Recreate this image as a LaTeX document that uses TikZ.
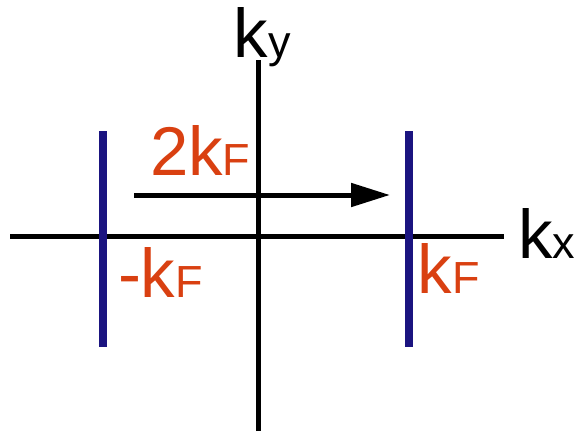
\documentclass[tikz,border=0pt]{standalone}
\usepackage{fontspec}
\setmainfont{Liberation Sans}
\usetikzlibrary{arrows.meta}
\definecolor{kforange}{HTML}{D94011}
\definecolor{fsblue}{HTML}{1B1480}
\newcommand{\bigk}[1]{{\fontsize{69}{69}\selectfont #1}}
\newcommand{\smallsub}[1]{{\fontsize{45}{45}\selectfont #1}}
\begin{document}
\begin{tikzpicture}[x=1pt,y=-1pt,
  axis/.style={line width=5pt,black},
  fsline/.style={line width=8pt,fsblue},
  lab/.style={anchor=base west,inner sep=0pt,outer sep=0pt},
  orangelab/.style={lab,text=kforange}]
\useasboundingbox (0,0) rectangle (578,431);
% axes
\coordinate (xl) at (10,236);
\coordinate (xr) at (504,236);
\coordinate (yt) at (258,60);
\coordinate (yb) at (258,431);
\draw[axis] (xl) -- (xr);
\draw[axis] (yb) -- (yt);
% Fermi lines
\coordinate (lt) at (102.5,131);
\coordinate (lb) at (102.5,347);
\coordinate (rt) at (409,131);
\coordinate (rb) at (409,347);
\draw[fsline] (lt) -- (lb);
\draw[fsline] (rt) -- (rb);
% nesting arrow
\coordinate (as) at (134,195);
\coordinate (ae) at (390,195);
\draw[line width=5pt,-{Triangle[length=39pt,width=23pt]}] (as) -- (ae);
% labels
\node[lab] (kx) at (518,258) {\bigk{k}\smallsub{x}};
\node[lab] (ky) at (233.5,57) {\bigk{k}\smallsub{y}};
\node[orangelab] (twokf) at (150,175) {\bigk{2k}\smallsub{F}};
\node[orangelab] (mkf) at (118,297) {\bigk{-k}\smallsub{F}};
\node[orangelab] (kf) at (417.5,293) {\bigk{k}\smallsub{F}};
\end{tikzpicture}
\end{document}
